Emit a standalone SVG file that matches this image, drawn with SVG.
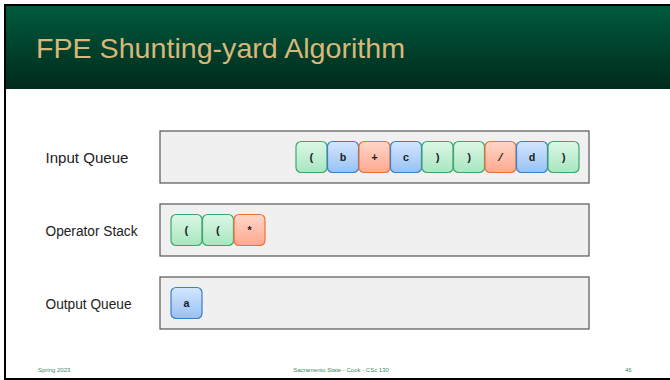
<svg xmlns="http://www.w3.org/2000/svg" width="670" height="380" viewBox="0 0 670 380">
<defs>
<linearGradient id="hdr" x1="0" y1="0" x2="0" y2="1"><stop offset="0" stop-color="#005a3e"/><stop offset="1" stop-color="#002a1c"/></linearGradient>
<linearGradient id="gG" x1="0" y1="0" x2="0" y2="1"><stop offset="0" stop-color="#dcf7e6"/><stop offset="1" stop-color="#a8e6bf"/></linearGradient>
<linearGradient id="gB" x1="0" y1="0" x2="0" y2="1"><stop offset="0" stop-color="#d4e6ff"/><stop offset="1" stop-color="#98c1f3"/></linearGradient>
<linearGradient id="gO" x1="0" y1="0" x2="0" y2="1"><stop offset="0" stop-color="#ffd6c8"/><stop offset="1" stop-color="#ffa88e"/></linearGradient>
</defs>
<style>
.lbl{font-family:"Liberation Sans",Arial,sans-serif;font-size:14px;fill:#222}
.box{fill:#f0f0f0;stroke:#555;stroke-width:1.2}
.tk{stroke-width:1.2}
.g{fill:url(#gG);stroke:#3aa86c}
.b{fill:url(#gB);stroke:#3a7fc8}
.o{fill:url(#gO);stroke:#ea7238}
.tt{font-family:"Liberation Mono","Courier New",monospace;font-weight:bold;font-size:11px;fill:#222;text-anchor:middle}
.ft{font-family:"Liberation Sans",Arial,sans-serif;font-size:6px;fill:#3f8a64}
</style>
<rect x="0" y="0" width="670" height="380" fill="#fff"/>
<rect x="5" y="5" width="670" height="374" fill="#fff" stroke="#000" stroke-width="2"/>
<rect x="6" y="6" width="664" height="83" fill="url(#hdr)"/>
<text x="36" y="58" font-family="Liberation Sans,Arial,sans-serif" font-size="28" fill="#d8b77a" textLength="369" lengthAdjust="spacingAndGlyphs">FPE Shunting-yard Algorithm</text>

<g id="input-queue">
<text class="lbl" x="45.5" y="163" textLength="83" lengthAdjust="spacingAndGlyphs">Input Queue</text>
<rect class="box" x="160" y="131" width="429" height="52"/>
</g>
<g id="operator-stack">
<text class="lbl" x="45.5" y="236" textLength="92" lengthAdjust="spacingAndGlyphs">Operator Stack</text>
<rect class="box" x="160" y="204" width="429" height="52"/>
</g>
<g id="output-queue">
<text class="lbl" x="45.5" y="309" textLength="86" lengthAdjust="spacingAndGlyphs">Output Queue</text>
<rect class="box" x="160" y="277" width="429" height="52"/>
</g>

<g id="in-tokens">
<g id="in1"><rect class="tk g" x="296" y="141.5" width="31" height="31" rx="5"/><text class="tt" x="311.5" y="161">(</text></g>
<g id="in2"><rect class="tk b" x="327.5" y="141.5" width="31" height="31" rx="5"/><text class="tt" x="343" y="161">b</text></g>
<g id="in3"><rect class="tk o" x="359" y="141.5" width="31" height="31" rx="5"/><text class="tt" x="374.5" y="161">+</text></g>
<g id="in4"><rect class="tk b" x="390.5" y="141.5" width="31" height="31" rx="5"/><text class="tt" x="406" y="161">c</text></g>
<g id="in5"><rect class="tk g" x="422" y="141.5" width="31" height="31" rx="5"/><text class="tt" x="437.5" y="161">)</text></g>
<g id="in6"><rect class="tk g" x="453.5" y="141.5" width="31" height="31" rx="5"/><text class="tt" x="469" y="161">)</text></g>
<g id="in7"><rect class="tk o" x="485" y="141.5" width="31" height="31" rx="5"/><text class="tt" x="500.5" y="161">/</text></g>
<g id="in8"><rect class="tk b" x="516.5" y="141.5" width="31" height="31" rx="5"/><text class="tt" x="532" y="161">d</text></g>
<g id="in9"><rect class="tk g" x="548" y="141.5" width="31" height="31" rx="5"/><text class="tt" x="563.5" y="161">)</text></g>
</g>
<g id="op-tokens">
<g id="op1"><rect class="tk g" x="171" y="214.5" width="31" height="31" rx="5"/><text class="tt" x="186.5" y="234">(</text></g>
<g id="op2"><rect class="tk g" x="202.5" y="214.5" width="31" height="31" rx="5"/><text class="tt" x="218" y="234">(</text></g>
<g id="op3"><rect class="tk o" x="234" y="214.5" width="31" height="31" rx="5"/><text class="tt" x="249.5" y="234">*</text></g>
</g>
<g id="out-tokens">
<g id="out1"><rect class="tk b" x="171" y="287.5" width="31" height="31" rx="5"/><text class="tt" x="186.5" y="307">a</text></g>
</g>
<g id="connectors"></g>

<text class="ft" x="38" y="372">Spring 2023</text>
<text class="ft" x="341" y="372" text-anchor="middle">Sacramento State - Cook - CSc 130</text>
<text class="ft" x="625" y="372">46</text>
</svg>
